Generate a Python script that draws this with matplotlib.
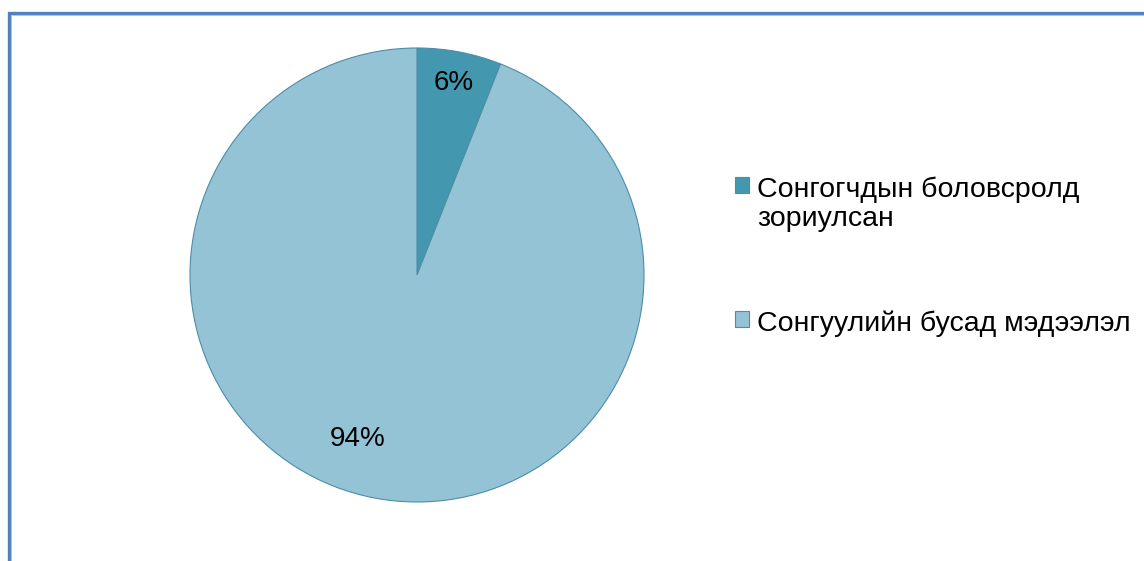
import matplotlib.pyplot as plt
from matplotlib.patches import Rectangle
import numpy as np

plt.rcParams['font.family'] = ['Liberation Sans', 'DejaVu Sans']

labels = ['Сонгогчдын боловсролд\nзориулсан', 'Сонгуулийн бусад мэдээлэл']
shares = [6, 94]
colors = ['#4398AF', '#94C3D5']

W, H = 1144, 561
fig = plt.figure(figsize=(W / 100, H / 100), dpi=100)

# chart frame: left and top edges only show
fig.patches.append(Rectangle((8.5 / W, -0.1), 1.2, 1 - 12.5 / H + 0.1,
                             transform=fig.transFigure, fill=False,
                             edgecolor='#4F81BD', linewidth=2.4))
fig.patches.append(Rectangle((10.5 / W, -0.1), 1.2, 1 - 14.5 / H + 0.1,
                             transform=fig.transFigure, fill=False,
                             edgecolor='#A9C4E4', linewidth=0.8))

ax = fig.add_axes([190 / W, 59 / H, 454 / W, 454 / H])
wedges, texts, autotexts = ax.pie(
    shares, colors=colors, startangle=90, counterclock=False,
    autopct='%d%%', pctdistance=0.86,
    wedgeprops=dict(edgecolor='#4C8DA8', linewidth=0.8),
    textprops=dict(fontsize=20, color='black'))
ax.set_xlim(-1, 1)
ax.set_ylim(-1, 1)
ax.set_aspect('equal')

# move the large slice's label towards the lower left
ang = np.deg2rad(250)
autotexts[1].set_position((0.77 * np.cos(ang), 0.77 * np.sin(ang)))

leg = fig.legend(wedges, labels, loc='upper left',
                 bbox_to_anchor=(735 / W, 1 - 177 / H),
                 frameon=False, fontsize=20.5, borderpad=0, borderaxespad=0,
                 handlelength=0.5, handleheight=0.5,
                 handletextpad=0.28, labelspacing=2.75)
for t in leg.get_texts():
    t.set_linespacing(1.15)
# keep the square next to the first line of a wrapped label
for col in leg._legend_handle_box.get_children():
    for item in col.get_children():
        item.align = 'top'

fig.savefig('out.png', dpi=100)
